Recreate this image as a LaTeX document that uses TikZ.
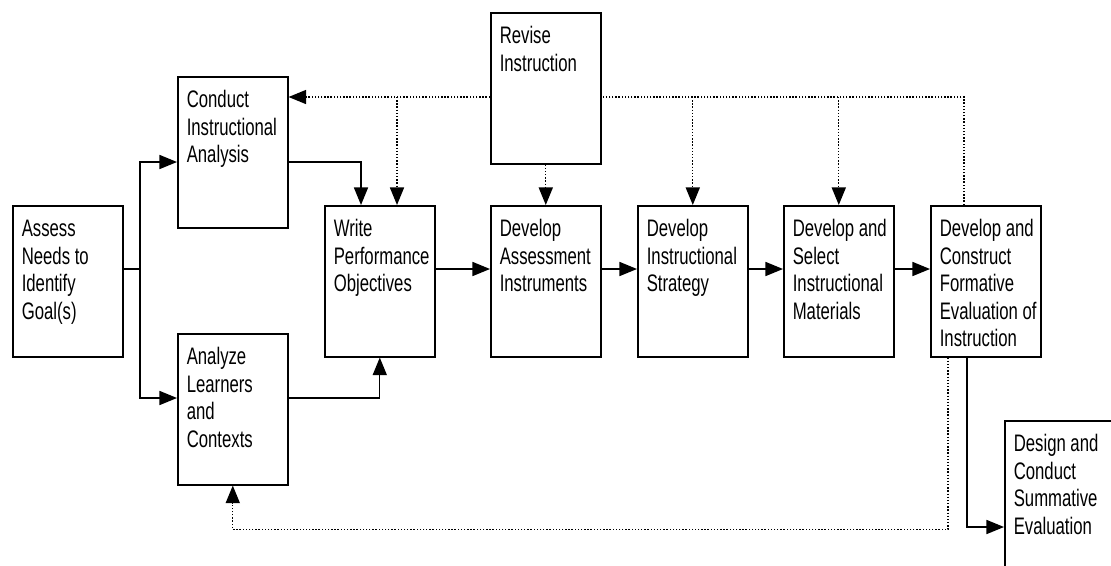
\documentclass[tikz,border=0pt]{standalone}
\usepackage{fontspec}
\setmainfont{Liberation Sans}[FakeStretch=0.70]
\usetikzlibrary{arrows.meta,calc}

\newcommand{\stagetext}[1]{\parbox[t][3.02cm][t]{2.2cm}{\raggedright\leftskip=0.18cm\rule{0pt}{0.62cm}#1}}

\begin{document}
\begin{tikzpicture}[x=0.02cm,y=-0.02cm,
    stage/.style={draw,line width=0.9pt,anchor=north west,inner sep=0pt,
      font=\fontsize{13.6pt}{15.6pt}\selectfont},
    flow/.style={line width=0.8pt,-{Triangle[length=10pt,width=8pt]}},
    backline/.style={line width=0.8pt,densely dotted},
    back/.style={backline,-{Triangle[length=10pt,width=8pt]}}]
  \useasboundingbox (0,0) rectangle (1111,565);
  \clip (0,0) rectangle (1111,565);

  \node[stage] (assess) at (12,205) {\stagetext{Assess\\Needs to\\Identify\\Goal(s)}};
  \node[stage] (conduct) at (177,76) {\stagetext{Conduct\\Instructional\\Analysis}};
  \node[stage] (analyze) at (177,333) {\stagetext{Analyze\\Learners\\and\\Contexts}};
  \node[stage] (write) at (324,205) {\stagetext{Write\\Performance\\Objectives}};
  \node[stage] (revise) at (490,12) {\stagetext{Revise\\Instruction}};
  \node[stage] (instruments) at (490,205) {\stagetext{Develop\\Assessment\\Instruments}};
  \node[stage] (strategy) at (637,205) {\stagetext{Develop\\Instructional\\Strategy}};
  \node[stage] (materials) at (783,205) {\stagetext{Develop and\\Select\\Instructional\\Materials}};
  \node[stage] (formative) at (930,205) {\stagetext{Develop and\\Construct\\Formative\\Evaluation of\\Instruction}};
  \node[stage] (summative) at (1004,420) {\stagetext{Design and\\Conduct\\Summative\\Evaluation}};

  \coordinate (split) at (140,269);
  \coordinate (top) at ($(revise.north west)+(0,85)$);
  \coordinate (wdrop) at ($(write.north west)+(73,0)$);

  % forward flow
  \draw[flow] ($(assess.north east)+(0,64)$) -- (split) |- ($(conduct.north west)+(0,86)$);
  \draw[flow] (split) |- ($(analyze.north west)+(0,65)$);
  \draw[flow] ($(conduct.north east)+(0,86)$) -| ($(write.north west)+(37,0)$);
  \draw[flow] ($(analyze.north east)+(0,65)$) -| (write.south);
  \foreach \a/\b in {write/instruments,instruments/strategy,strategy/materials,materials/formative}
    \draw[flow] ($(\a.north east)+(0,64)$) -- ($(\b.north west)+(0,64)$);
  \draw[flow] ($(formative.south west)+(37,0)$) |- ($(summative.north west)+(0,107)$);

  % revision loops
  \draw[back] ($(revise.north west)+(0,85)$) -- ($(conduct.north east)+(0,21)$);
  \draw[back] (wdrop |- top) -- (wdrop);
  \draw[back] (revise.south) -- (instruments.north);
  \draw[back] (strategy.north |- top) -- (strategy.north);
  \draw[back] (materials.north |- top) -- (materials.north);
  \draw[backline] ($(formative.north west)+(34,0)$) |- ($(revise.north east)+(0,85)$);
  \draw[back] ($(formative.south west)+(18,0)$) |- ($(analyze.south)+(0,44)$) -- (analyze.south);
\end{tikzpicture}
\end{document}
